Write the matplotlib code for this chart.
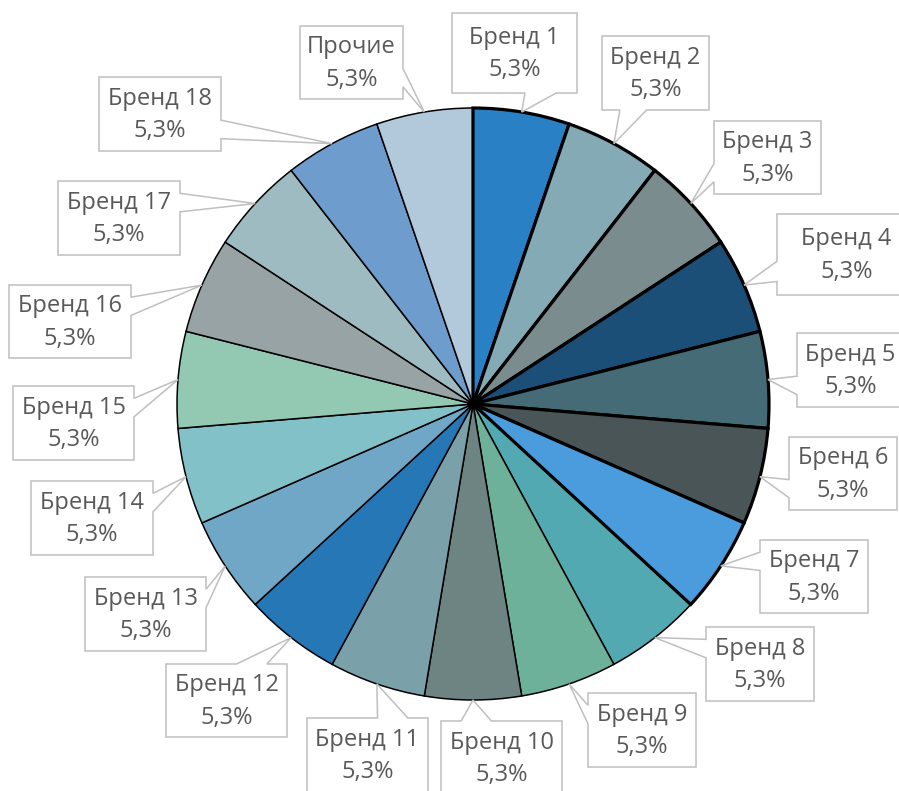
import matplotlib.pyplot as plt
from matplotlib.patches import Polygon
import numpy as np

# ── data ──────────────────────────────────────────────────────────────────────

labels = ["Бренд 1", "Бренд 2", "Бренд 3", "Бренд 4", "Бренд 5", "Бренд 6",
          "Бренд 7", "Бренд 8", "Бренд 9", "Бренд 10", "Бренд 11", "Бренд 12",
          "Бренд 13", "Бренд 14", "Бренд 15", "Бренд 16", "Бренд 17", "Бренд 18",
          "Прочие"]
values = [5.3, 5.3, 5.3, 5.3, 5.3, 5.3, 5.3, 5.3, 5.3, 5.3,
          5.3, 5.3, 5.3, 5.3, 5.3, 5.3, 5.3, 5.3, 5.3]
colors = ["#2a80c5", "#84abb5", "#7a8c8d", "#1b4f78", "#456c76", "#4a5558",
          "#4a9cdc", "#52a9b2", "#6db19a", "#6e8482", "#7aa0a9", "#2577b6",
          "#70a7c6", "#82c1c8", "#93c8b3", "#97a3a4", "#9fbbc2", "#6d9ccd",
          "#b2c8db"]

# callout boxes in image pixels: left, top, right, bottom
boxes = [
    (452, 13, 577, 93), (602, 36, 709, 110), (714, 121, 821, 194),
    (777, 214, 916, 295), (797, 333, 904, 407), (789, 437, 897, 510),
    (760, 540, 868, 613), (706, 627, 814, 701), (588, 693, 696, 767),
    (441, 721, 562, 795), (307, 718, 428, 792), (166, 664, 287, 737),
    (85, 577, 206, 651), (31, 481, 153, 555), (13, 386, 134, 460),
    (9, 285, 131, 358), (58, 181, 180, 255), (99, 77, 221, 151),
    (300, 26, 403, 99),
]

# ── layout ────────────────────────────────────────────────────────────────────

W, H = 899, 791
CX, CY, R = 473, 404, 296
TEXT_COLOR = "#595959"
BOX_EDGE = "#bfbfbf"


def to_data(x, y):
    return (x - CX) / R, (CY - y) / R


# Excel-like wedgeRectCallout outline, pixel coords (y down)
def callout_outline(l, t, r, b, tx, ty):
    w, h = r - l, b - t
    dx = tx - (l + r) / 2
    dy = ty - (t + b) / 2
    dq = dx * h / w
    x1 = l + w * (7 if dx > 0 else 2) / 12
    x2 = l + w * (10 if dx > 0 else 5) / 12
    y1 = t + h * (7 if dy > 0 else 2) / 12
    y2 = t + h * (10 if dy > 0 else 5) / 12
    if abs(dy) > abs(dq):
        if dy < 0:
            pts = [(l, t), (x1, t), (tx, ty), (x2, t), (r, t), (r, b), (l, b)]
        else:
            pts = [(l, t), (r, t), (r, b), (x2, b), (tx, ty), (x1, b), (l, b)]
    else:
        if dx < 0:
            pts = [(l, t), (r, t), (r, b), (l, b), (l, y2), (tx, ty), (l, y1)]
        else:
            pts = [(l, t), (r, t), (r, y1), (tx, ty), (r, y2), (r, b), (l, b)]
    return [to_data(x, y) for x, y in pts]


fig = plt.figure(figsize=(W / 100, H / 100), dpi=100)
ax = fig.add_axes([0, 0, 1, 1])

wedges, _ = ax.pie(values, colors=colors, startangle=90, counterclock=False,
                   radius=1, wedgeprops=dict(edgecolor="black", linewidth=1.1))
# first seven slices have a heavier outline
for wdg in wedges[:7]:
    wdg.set_linewidth(2.3)
    wdg.set_zorder(2)

for wdg, name, val, (l, t, r, b) in zip(wedges, labels, values, boxes):
    mid = np.deg2rad((wdg.theta1 + wdg.theta2) / 2)
    tx = CX + R * np.cos(mid)
    ty = CY - R * np.sin(mid)
    ax.add_patch(Polygon(callout_outline(l, t, r, b, tx, ty), closed=True,
                         facecolor="white", edgecolor=BOX_EDGE, lw=1.1, zorder=4))
    pct = f"{val:.1f}".replace(".", ",") + "%"
    ax.text(*to_data((l + r) / 2, (t + b) / 2 + 1), f"{name}\n{pct}",
            ha="center", va="center", fontsize=17, color=TEXT_COLOR,
            family="Open Sans", linespacing=1.45, zorder=5)

ax.set_xlim(-CX / R, (W - CX) / R)
ax.set_ylim(-(H - CY) / R, CY / R)
ax.set_aspect("equal")
ax.axis("off")

fig.savefig("out.png", dpi=100)
